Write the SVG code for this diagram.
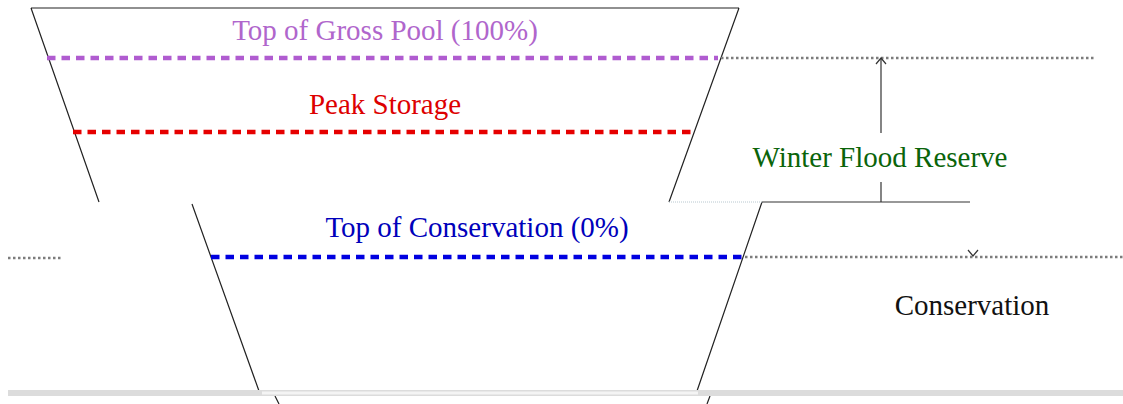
<svg xmlns="http://www.w3.org/2000/svg" width="1123" height="404" viewBox="0 0 1123 404">
<style>
.edge{stroke:#222;stroke-width:1.2;fill:none}
.dot{stroke:#7c7c7c;stroke-width:2.5;stroke-dasharray:2.5 2.5;fill:none}
.dash{stroke-width:4.5;stroke-dasharray:8.5 6;fill:none}
.lbl{font-family:"Liberation Serif","DejaVu Serif",serif;font-size:29px;text-anchor:middle}
.arr{stroke:#333;stroke-width:1.2;fill:none}
</style>
<rect x="0" y="0" width="1123" height="404" fill="#fff"/>
<g id="reservoir-top">
<path class="edge" d="M31,8 L739,8 M31,8 L99,202 M739,8 L669,202"/>
</g>
<g id="reservoir-bottom">
<path class="edge" d="M192,204 L259,391 M762,202 L697,391"/>
<line x1="669" y1="202" x2="762" y2="202" stroke="#b8c8d0" stroke-width="1" stroke-dasharray="1 1"/>
<path class="edge" d="M275,396 L279,404 M710,396 L707,404"/>
</g>
<g id="ground">
<rect x="8" y="390" width="1115" height="6" fill="#dcdcdc"/>
<rect x="262" y="391.5" width="436" height="3" fill="#f4f4f4"/>
</g>
<g id="gross-pool">
<line class="dash" x1="47" y1="58" x2="718" y2="58" stroke="#b05cd0"/>
<text class="lbl" x="385" y="40" fill="#b066cc">Top of Gross Pool (100%)</text>
</g>
<g id="peak-storage">
<line class="dash" x1="73" y1="132" x2="695" y2="132" stroke="#e60000"/>
<text class="lbl" x="385" y="114" fill="#dd0000">Peak Storage</text>
</g>
<g id="top-conservation">
<line class="dash" x1="211" y1="257" x2="743" y2="257" stroke="#0000e0"/>
<text class="lbl" x="477" y="237" fill="#0000bb">Top of Conservation (0%)</text>
</g>
<g id="winter-flood-reserve">
<text class="lbl" x="880" y="167" fill="#0a640a">Winter Flood Reserve</text>
</g>
<g id="conservation">
<text class="lbl" x="972" y="315" fill="#111">Conservation</text>
</g>
<g id="connectors">
<line class="dot" x1="721" y1="58" x2="1095" y2="58"/>
<line class="dot" x1="745" y1="257" x2="1123" y2="257"/>
<line class="dot" x1="8" y1="258" x2="61" y2="258"/>
<line class="arr" x1="762" y1="202" x2="970" y2="202"/>
<line class="arr" x1="881" y1="202" x2="881" y2="182"/>
<line class="arr" x1="881" y1="133" x2="881" y2="59"/>
<path class="arr" d="M876,64 L881,58 L886,64"/>
<path class="arr" d="M968,250 L973,256 L978,250"/>
</g>
</svg>
